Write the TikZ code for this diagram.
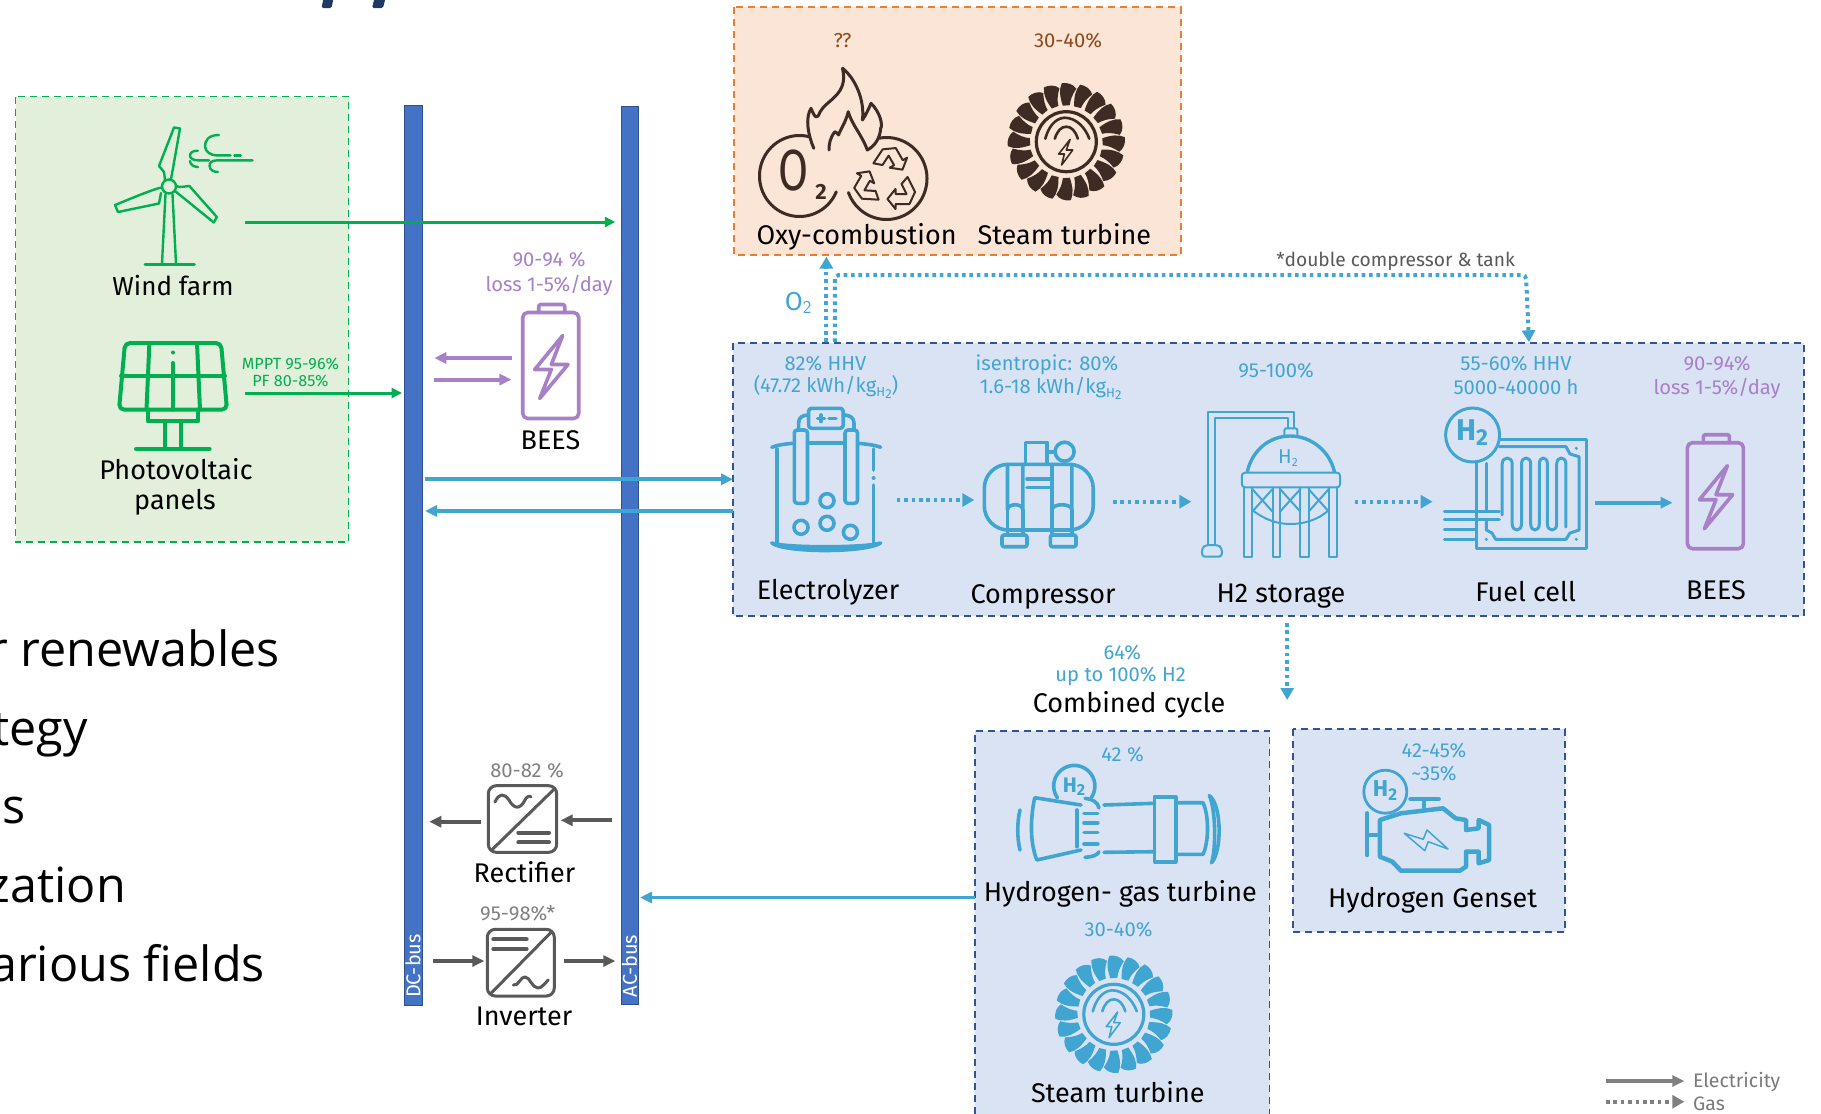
\documentclass[tikz,border=0pt]{standalone}
\usepackage{fontspec}
\setmainfont{Fira Sans}
\newfontfamily\slidefont{Open Sans}
\usetikzlibrary{arrows.meta}
\definecolor{hblue}{HTML}{41A5D2}
\definecolor{busblue}{HTML}{4472C4}
\definecolor{busedge}{HTML}{2F528F}
\definecolor{panelblue}{HTML}{DAE3F3}
\definecolor{paneledge}{HTML}{2F5597}
\definecolor{greenfill}{HTML}{E2EFDA}
\definecolor{hgreen}{HTML}{00B050}
\definecolor{orangefill}{HTML}{FBE5D6}
\definecolor{hbrown}{HTML}{3E2B23}
\definecolor{horange}{HTML}{ED7D31}
\definecolor{pctbrown}{HTML}{8F4A1C}
\definecolor{hpurple}{HTML}{A780C8}
\definecolor{convgray}{HTML}{595959}
\definecolor{pctgray}{HTML}{808080}
\definecolor{navy}{HTML}{1F3864}
\tikzset{
  x=1pt,y=-1pt,
  every node/.style={inner sep=0pt,outer sep=0pt,anchor=center,align=center},
  name text/.style={font=\fontsize{27}{29}\selectfont,text=black},
  small text/.style={font=\fontsize{20.2}{22}\selectfont},
  blue text/.style={small text,text=hblue},
  purple text/.style={small text,text=hpurple},
  elec/.style={-{Triangle[length=12pt,width=11pt]},line width=3.9pt},
  thin elec/.style={-{Triangle[length=10.5pt,width=10pt]},line width=3pt,hgreen},
  gas/.style={-{Triangle[length=12pt,width=13pt]},line width=4pt,hblue,dash pattern=on 3.6pt off 3.8pt},
  panel/.style={fill=panelblue,draw=paneledge,line width=1.8pt,dash pattern=on 7pt off 5pt},
  bus/.style={fill=busblue,draw=busedge,line width=1pt},
  icon/.style={line width=3.6pt,line join=round,line cap=round},
  thin icon/.style={line width=2pt,line join=round,line cap=round},
}
\newcommand{\batteryicon}[2]{%
  \begin{scope}[shift={(#1,#2)},hpurple,icon]
    \draw[rounded corners=5pt] (0,0) rectangle (56,106);
    \draw[rounded corners=2pt] (16,0) -- (16,-8) -- (42,-8) -- (42,0);
    \draw (40,23) -- (12,57) -- (28.6,57) -- (17,86) -- (45.3,52) -- (28.6,52) -- cycle;
  \end{scope}}
\newcommand{\turbineicon}[3]{%
  \begin{scope}[shift={(#1,#2)}]
    \foreach \a in {0,18,...,342}{
      \fill[#3,rotate=\a] (-3.5,-36) .. controls (-6.5,-45) and (-7.5,-52) .. (-4.5,-58.5)
         .. controls (1,-59.5) and (7,-57.5) .. (10,-53) .. controls (6,-47) and (4,-42) .. (3.5,-36.5) -- cycle;
    }
    \draw[#3,line width=3.2pt] (0,0) circle (30);
    \draw[#3,line width=2.6pt,line cap=round] (-21,-3) .. controls (-18,-14) and (-12,-23) .. (-2,-24) .. controls (10,-24) and (19,-14) .. (23,-3);
    \draw[#3,line width=2.6pt,line cap=round] (-11.5,-3) .. controls (-9,-11) and (-5,-15) .. (0,-15) .. controls (5,-15) and (9,-11) .. (11.5,-3);
    \draw[#3,line width=1.6pt,line join=round] (3.8,-2.3) -- (-7.6,12.3) -- (-2,12.3) -- (-4.7,23.3) -- (6.4,8.3) -- (0,8.3) -- cycle;
  \end{scope}}
\begin{document}
\begin{tikzpicture}
\useasboundingbox (0,0) rectangle (1821,1114);
\fill[white] (0,0) rectangle (1821,1114);

% title fragment
\fill[navy,rounded corners=1.5pt] (324,-4) -- (334,-4) -- (331.5,8) -- (321.5,8) -- cycle;
\fill[navy,rounded corners=1.5pt] (375,-4) -- (386,-4) -- (383,8) -- (372,8) -- cycle;

% slide text fragments
\begin{scope}[every node/.append style={anchor=base east,font=\slidefont\fontsize{48.5}{50}\selectfont,text=black}]
  \node (s1) at (280,666.7) {r renewables};
  \node (s2) at (88,745) {tegy};
  \node (s3) at (26,823) {s};
  \node (s4) at (126,902.3) {zation};
  \node (s5) at (265,981.7) {arious fields};
\end{scope}

% panels
\path[fill=greenfill,draw=hgreen,line width=1.8pt,dash pattern=on 7pt off 5pt] (15.5,96.5) rectangle (348.5,542);
\path[fill=orangefill,draw=horange,line width=1.8pt,dash pattern=on 7pt off 5pt] (734,7.3) rectangle (1181,255);
\path[panel] (733.2,342.7) rectangle (1803.7,616);
\fill[panelblue] (975,730.7) rectangle (1269.5,1114);
\draw[paneledge,line width=1.8pt,dash pattern=on 7pt off 5pt] (975,1114) -- (975,730.7) -- (1269.5,730.7) -- (1269.5,1114);
\path[panel] (1292.7,729) rectangle (1565,932.3);

% buses
\node[bus,minimum width=18pt,minimum height=900pt] (dcbus) at (413,555.8) {};
\node[bus,minimum width=17pt,minimum height=898pt] (acbus) at (629.5,555) {};
\node[rotate=90,text=white,font=\fontsize{20}{22}\selectfont] (dclabel) at (413,966) {DC-bus};
\node[rotate=90,text=white,font=\fontsize{20}{22}\selectfont] (aclabel) at (629.5,966) {AC-bus};

% wind turbine
\begin{scope}[hgreen,line width=2.4pt,line join=round,line cap=round]
  \draw (169,186.5) circle (7);
  \draw (174,127.5) -- (180,128.5) -- (172.5,171) -- (171,179);
  \draw (174,127.5) -- (159,166) -- (164,172) -- (165,180);
  \draw (162,187.5) .. controls (155,188) and (118,204) .. (115,205) -- (118,212) -- (159,203.5) -- (161,193);
  \draw (176,186) .. controls (180,188) and (186,186) .. (189.4,186) -- (216.8,217) -- (213.8,222.5) -- (175,191);
  \draw (165.5,194) -- (162,263.6);
  \draw (172.5,194) -- (176,263.6);
  \draw[line width=3pt] (145,264.3) -- (194.4,264.3);
  \draw (219,135) .. controls (208,135) and (205,141) .. (205,146) .. controls (205,152) and (211,155.4) .. (216.7,155.4) -- (230.6,155.4);
  \draw (234.4,155.4) -- (240.7,155.4);
  \draw (252.5,160.4) -- (216.8,160.4) .. controls (211,160.4) and (209.6,163) .. (209.6,166) .. controls (209.6,170) and (214,172) .. (218,172);
  \draw (197.8,150.7) .. controls (192,150.7) and (190,153) .. (190,156) .. controls (190,158.5) and (194,160.4) .. (198,160.4) -- (209,160.4);
  \draw (190,161) .. controls (190,164) and (193,167) .. (198,167);
\end{scope}
\node[name text,font=\fontsize{26}{28}\selectfont] (windtxt) at (173,285.5) {Wind farm};

% PV panel
\begin{scope}[hgreen,line width=4pt,line join=round,line cap=round]
  \draw[rounded corners=5pt] (125,343) -- (221,343) -- (227,409.6) -- (119,409.6) -- cycle;
  \draw (121,375.7) -- (225,375.7);
  \draw (149.4,343) -- (146.5,409.6);
  \draw (197,343) -- (200,409.6);
  \draw (173,363) -- (173,409.6);
  \draw (148,409.6) -- (148,421.4) -- (198,421.4) -- (198,409.6);
  \draw (165.4,421.4) -- (165.4,449);
  \draw (181,421.4) -- (181,449);
  \draw (136,449) -- (209.6,449);
  \fill (173,352.5) circle (2);
\end{scope}
\node[name text] (pvtxt1) at (176,469) {Photovoltaic};
\node[name text] (pvtxt2) at (175,502) {panels};
\node[text=hgreen,font=\fontsize{16.2}{18}\selectfont] (mppt) at (290.4,363.6) {MPPT 95-96\%};
\node[text=hgreen,font=\fontsize{16.2}{18}\selectfont] (pf) at (290.4,381) {PF 80-85\%};

% left battery
\batteryicon{522.7}{312.5}
\node[purple text] (bpct) at (549,260) {90-94 \%};
\node[purple text] (bloss) at (549,285) {loss 1-5\%/day};
\node[name text] (bees1) at (550.5,440) {BEES};
\coordinate (pa1) at (512,358); \coordinate (pa2) at (434.3,358);
\coordinate (pb1) at (433.5,379.6); \coordinate (pb2) at (511.4,379.6);
\draw[elec,hpurple] (pa1) -- (pa2);
\draw[elec,hpurple] (pb1) -- (pb2);

% green arrows
\coordinate (wind out) at (245.4,222); \coordinate (ac wind) at (615.3,222);
\coordinate (pv out) at (245.4,393); \coordinate (dc pv) at (402,393);
\draw[thin elec] (wind out) -- (ac wind);
\draw[thin elec] (pv out) -- (dc pv);

% blue bus arrows
\coordinate (dc o) at (425,479.3); \coordinate (h in) at (733,479.3);
\coordinate (h o) at (733,511); \coordinate (dc in) at (425,511);
\draw[elec,hblue] (dc o) -- (h in);
\draw[elec,hblue] (h o) -- (dc in);

% oxy combustion
\node[text=pctbrown,small text] (q) at (842.5,40.7) {??};
\node[text=pctbrown,small text] (st1pct) at (1068,40.7) {30-40\%};
\begin{scope}[hbrown,line width=3pt,line join=round,line cap=round]
  \draw plot[smooth,domain=75:337,samples=40] ({799.5+40*cos(\x)},{176-40.5*sin(\x)});
  \draw plot[smooth,domain=-160:100,samples=40] ({886.5+40.5*cos(\x)},{178.5-41*sin(\x)});
  \draw (813.8,148.3) .. controls (808,135) and (805,118) .. (811,108.3)
     .. controls (815,118) and (817,120) .. (820,112) .. controls (826,100) and (849,95) .. (842.5,68.3)
     .. controls (855,78) and (865,100) .. (862.4,120) .. controls (866,115) and (869,108) .. (871,103.3)
     .. controls (880,112) and (883,125) .. (880.7,128.3) .. controls (880,138) and (875,146) .. (867.3,150)
     .. controls (862,135) and (852,125) .. (848.2,111.7)
     .. controls (846,122) and (840,130) .. (838.6,135) .. controls (837,133) and (836,132) .. (834.8,131.7)
     .. controls (830,138) and (829,144) .. (829,150);
\end{scope}
\node[text=hbrown,font=\fontsize{58}{60}\selectfont] (o2big) at (793.5,171) {\scalebox{0.75}[1]{O}};
\node[text=hbrown,font=\bfseries\fontsize{22}{24}\selectfont] (o2sub) at (821,192) {2};
\begin{scope}[shift={(886.5,180)},hbrown,line width=2pt,line join=round]
  \foreach \a in {0,120,240}{
    \draw[rotate=\a] (1,19) -- (9,9) -- (9,14) -- (20,14) -- (15,4) -- (21,-3) -- (28.5,12) -- (23,24) -- (9,24) -- (9,29) -- cycle;
  }
\end{scope}
\turbineicon{1066.3}{141.7}{hbrown}
\node[name text] (oxytxt) at (856.6,237) {Oxy-combustion};
\node[name text] (st1txt) at (1064.4,234.5) {Steam turbine};

% O2 & double compressor
\node[text=hblue,font=\fontsize{26}{28}\selectfont] (o2lab) at (798.5,303) {O$_{\mathsf{2}}$};
\coordinate (o2 s) at (826.4,342); \coordinate (o2 e) at (826.4,256.7);
\draw[gas] (o2 s) -- (o2 e);
\coordinate (dc s) at (834.8,342); \coordinate (dc c1) at (834.8,275);
\coordinate (dc c2) at (1526,275); \coordinate (dc e) at (1529,342.3);
\draw[gas,rounded corners=4pt] (dc s) -- (dc c1) -- (dc c2) -- (dc e);
\node[text=convgray,font=\fontsize{19.2}{22}\selectfont] (dctxt) at (1395.6,261) {*double compressor \& tank};

% main labels
\node[blue text] (l1a) at (825.4,363.3) {82\% HHV};
\node[blue text] (l1b) at (826,387) {(47.72 kWh/kg\raisebox{-4pt}{\fontsize{13}{14}\selectfont H\raisebox{-2pt}{2}})};
\node[blue text] (l2a) at (1047,364.3) {isentropic: 80\%};
\node[blue text] (l2b) at (1050.7,388) {1.6-18 kWh/kg\raisebox{-4pt}{\fontsize{13}{14}\selectfont H\raisebox{-2pt}{2}}};
\node[blue text] (l3) at (1276,371) {95-100\%};
\node[blue text] (l4a) at (1516,364) {55-60\% HHV};
\node[blue text] (l4b) at (1516,387) {5000-40000 h};
\node[purple text] (l5a) at (1717,364) {90-94\%};
\node[purple text] (l5b) at (1717,388) {loss 1-5\%/day};
\node[name text] (eltxt) at (828,592.7) {Electrolyzer};
\node[name text] (comptxt) at (1043,596.5) {Compressor};
\node[name text] (h2txt) at (1281,596.5) {H2 storage};
\node[name text] (fctxt) at (1525.6,591.7) {Fuel cell};
\node[name text] (bees2) at (1716,590) {BEES};

% electrolyzer
\begin{scope}[hblue,icon]
  \draw (771.8,447.3) .. controls (777,445) and (785,444) .. (793,443.3);
  \draw (857.5,443.3) .. controls (866,444) and (875,445) .. (880.7,447.3);
  \draw (777,449) -- (777,543);
  \draw (873.6,449) -- (873.6,470);
  \draw (873.6,485) -- (873.6,543);
  \fill (873.6,478) circle (2);
  \draw (771.8,543) .. controls (785,553) and (865,553) .. (880.7,543) .. controls (865,548) and (785,548) .. (771.8,543);
  \draw[rounded corners=3pt] (794.3,430) rectangle (807.5,503.3);
  \draw[rounded corners=3pt] (845,430) rectangle (857.5,503.3);
  \draw (807.5,442.7) -- (845,442.7);
  \draw (798.6,430) -- (798.6,423) .. controls (798.6,417) and (803,415) .. (808.6,415);
  \draw (854,430) -- (854,423) .. controls (854,417) and (849,415) .. (843.2,415);
  \draw[rounded corners=3pt] (808.6,408.3) rectangle (843.2,428.3);
  \draw (817.5,418.3) -- (824.5,418.3);
  \draw (821,415) -- (821,421.6);
  \draw (829,418.3) -- (836,418.3);
  \draw (827,500.7) circle (7);
  \draw (801,527.3) circle (7);
  \draw (827,523.3) circle (7);
  \draw (850.4,532.3) circle (7);
\end{scope}

% compressor
\begin{scope}[hblue,icon]
  \draw[rounded corners=24pt] (984.3,464.3) rectangle (1093.2,530);
  \draw (1007.5,464.3) -- (1007.5,510) .. controls (1007.5,503) and (1022.9,503) .. (1022.9,510) -- (1022.9,464.3);
  \draw (1052,464.3) -- (1052,510) .. controls (1052,503) and (1071.8,503) .. (1071.8,510) -- (1071.8,464.3);
  \draw (1007.5,510) -- (1007.5,535); \draw (1022.9,510) -- (1022.9,535);
  \draw (1052,510) -- (1052,535); \draw (1071.8,510) -- (1071.8,535);
  \draw[rounded corners=2pt] (1002,535) rectangle (1027,546.7);
  \draw[rounded corners=2pt] (1050.4,535) rectangle (1076,546.7);
  \draw (1025.4,464.3) -- (1025.4,442.3) -- (1046.8,442.3) -- (1046.8,464.3);
  \draw (1064.6,451.7) circle (9.5);
  \draw (1046.8,451.7) -- (1055,451.7);
  \draw (1027,479) -- (1050,479);
  \draw (1027,487.3) -- (1050,487.3);
\end{scope}

% H2 storage
\begin{scope}[hblue,thin icon]
  \draw (1208.2,545) -- (1208.2,411.7) -- (1293.7,411.7) -- (1293.7,428.3);
  \draw (1215.4,545) -- (1215.4,418.3) -- (1288,418.3) -- (1288,428.3);
  \draw[rounded corners=3pt] (1202,556.7) -- (1202,548) -- (1206,545) -- (1218,545) -- (1221.8,548) -- (1221.8,556.7) -- cycle;
  \draw[rounded corners=2pt] (1284.4,436) -- (1284.4,428.3) -- (1297.4,428.3) -- (1297.4,436);
  \draw[line width=3.4pt] (1247.4,471.7) .. controls (1252,450) and (1270,436) .. (1290,436) .. controls (1312,436) and (1330,452) .. (1334.4,471.7);
  \draw[rounded corners=3pt] (1241.9,472.7) rectangle (1340,487.3);
  \foreach \xa/\xb in {1244.4/1252.2,1272.6/1280,1300.4/1308.5,1328.9/1337}{
    \draw (\xa,487.3) -- (\xa,556.7) -- (\xb,556.7) -- (\xb,487.3);
  }
  \foreach \xa/\xb in {1252.2/1272.6,1280/1300.4,1308.5/1328.9}{
    \draw (\xa,489) -- (\xb,511.7);
    \draw (\xb,489) -- (\xa,511.7);
  }
  \draw (1252.2,510) .. controls (1265,520) and (1278,524) .. (1290,524) .. controls (1304,524) and (1318,520) .. (1328.9,510);
\end{scope}
\node[text=hblue,font=\fontsize{20}{22}\selectfont] (h2s) at (1288,458) {H\raisebox{-3pt}{\fontsize{12}{13}\selectfont 2}};

% fuel cell
\begin{scope}[hblue,line width=3pt,line join=round,line cap=round]
  \draw (1472.6,435) circle (27);
  \draw (1499.3,439) -- (1586.3,439) -- (1586.3,548.3) -- (1476,548.3) -- (1476,463.3);
  \draw (1486.3,463.3) -- (1486.3,511);
  \draw (1499.3,446.7) -- (1566,446.7) -- (1570,454) -- (1579,456.7) -- (1579,530) -- (1570,533) -- (1566,539.3) -- (1495.6,539.3) -- (1492,533) -- (1486.3,530) -- (1486.3,519.3);
  \draw (1502.2,515) -- (1502.2,464) .. controls (1502.2,456) and (1512.2,456) .. (1512.2,464) -- (1512.2,524)
    .. controls (1512.2,532) and (1521.5,532) .. (1521.5,524) -- (1521.5,464)
    .. controls (1521.5,456) and (1530.7,456) .. (1530.7,464) -- (1530.7,524)
    .. controls (1530.7,532) and (1539.3,532) .. (1539.3,524) -- (1539.3,464)
    .. controls (1539.3,456) and (1547.4,456) .. (1547.4,464) -- (1547.4,524)
    .. controls (1547.4,532) and (1556.7,532) .. (1556.7,524) -- (1556.7,464)
    .. controls (1556.7,456) and (1565.9,456) .. (1565.9,464) -- (1565.9,527);
  \draw (1444.4,511) -- (1499.3,511);
  \draw (1444.4,519.3) -- (1499.3,519.3);
  \draw (1444.4,529) -- (1476,529);
  \draw (1444.4,539) -- (1476,539);
  \fill (1576.3,448.3) circle (1.7);
  \fill (1486.3,539.3) circle (1.7);
  \fill (1576.3,539.3) circle (1.7);
\end{scope}
\node[text=hblue,font=\bfseries\fontsize{30}{32}\selectfont] (fch2) at (1472,433) {H\raisebox{-5pt}{\fontsize{23}{25}\selectfont 2}};

\batteryicon{1687.4}{442.7}

% gas arrows
\coordinate (g1a) at (896.8,500); \coordinate (g1b) at (974.3,500);
\coordinate (g2a) at (1112.9,501.7); \coordinate (g2b) at (1191.4,501.7);
\coordinate (g3a) at (1354.8,501.7); \coordinate (g3b) at (1432.6,501.7);
\coordinate (e4a) at (1594.8,502.7); \coordinate (e4b) at (1672.6,502.7);
\coordinate (g5a) at (1287.2,623); \coordinate (g5b) at (1287.2,700);
\draw[gas] (g1a) -- (g1b);
\draw[gas] (g2a) -- (g2b);
\draw[gas] (g3a) -- (g3b);
\draw[elec,hblue] (e4a) -- (e4b);
\draw[gas] (g5a) -- (g5b);

% combined cycle
\node[blue text] (c1) at (1122.4,653) {64\%};
\node[blue text] (c2) at (1120.6,676.5) {up to 100\% H2};
\node[name text] (c3) at (1129,704.5) {Combined cycle};
\node[blue text] (tpct) at (1122.5,754.5) {42 \%};
\begin{scope}[hblue,icon]
  \draw plot[smooth,domain=-35:215,samples=30] ({1074.3+20.6*cos(\x)},{786-20.6*sin(\x)});
  \draw (1081,805) -- (1034.7,797.7) .. controls (1031,815) and (1029,840) .. (1036.8,860) -- (1081,850);
  \draw (1076.8,810) -- (1076.8,846.7);
  \draw (1020,810) .. controls (1017,822) and (1017,838) .. (1020,850);
  \draw (1085,798.3) .. controls (1092,799) and (1098,802) .. (1099,808);
  \draw (1085,857.3) .. controls (1092,857) and (1098,855) .. (1099,851.7);
  \foreach \yy in {813.3,822.7,832.3,844}{\draw (1084,\yy) -- (1097.8,\yy);}
  \draw (1104,805) -- (1154.6,803.3);
  \draw (1104,852.3) -- (1154.6,851.7);
  \draw (1154.6,796.7) rectangle (1175.7,861.7);
  \draw (1175.7,802.7) -- (1203,802.7) .. controls (1209,815) and (1209,842) .. (1203,854.3) -- (1175.7,854.3);
  \draw (1209.4,795.7) .. controls (1222,805) and (1222,852) .. (1211.5,862.7);
  \draw (1209.4,795.7) .. controls (1216,810) and (1216,850) .. (1211.5,862.7);
\end{scope}
\node[text=hblue,font=\bfseries\fontsize{21}{23}\selectfont] (th2) at (1074,787) {H\raisebox{-3pt}{\fontsize{16}{18}\selectfont 2}};
\node[name text] (gttxt) at (1120.3,894) {Hydrogen- gas turbine};
\node[blue text] (st2pct) at (1118.5,930) {30-40\%};
\turbineicon{1113.8}{1014.3}{hblue}
\node[name text] (st2txt) at (1117.8,1092.5) {Steam turbine};
\coordinate (gt o) at (975,897.5); \coordinate (ac gt) at (640,897.5);
\draw[elec,hblue] (gt o) -- (ac gt);

% genset
\node[blue text] (g1) at (1434,750.7) {42-45\%};
\node[blue text] (g2) at (1434,774) {\textasciitilde 35\%};
\begin{scope}[hblue,line width=4.5pt,line join=round,line cap=round]
  \draw[line width=2.8pt] (1385.3,791.7) circle (21.5);
  \draw (1400.9,813.3) -- (1443,808.3) -- (1455.6,818.3) -- (1466,820) -- (1466,830) -- (1478.7,828.3) -- (1478.7,820) -- (1489.2,825) -- (1489.2,860) -- (1478.7,863.3) -- (1478.7,851.7) -- (1466,851.7) -- (1466,866.7) -- (1459.8,870.7) -- (1400.9,870.7) -- (1392.4,861.7) -- (1379.8,856.7) -- (1379.8,820) -- cycle;
  \draw (1367.2,813.3) -- (1367.2,855);
  \draw (1367.2,835) -- (1379.8,835);
  \draw (1410.5,799) -- (1438.7,799);
  \draw (1424,799) -- (1424,808);
  \draw[line width=1.5pt] (1404.2,833.3) -- (1424.8,850.7) -- (1428.2,841.7) -- (1448,849) -- (1427,830) -- (1423.2,839.3) -- cycle;
\end{scope}
\node[text=hblue,font=\bfseries\fontsize{23}{25}\selectfont] (gh2) at (1385,791) {H\raisebox{-4pt}{\fontsize{17}{19}\selectfont 2}};
\node[name text] (gentxt) at (1432.5,899.8) {Hydrogen Genset};

% rectifier
\node[text=pctgray,small text] (rpct) at (527,770.5) {80-82 \%};
\begin{scope}[convgray,line width=3pt,line join=round,line cap=round]
  \draw[rounded corners=8pt] (488.3,785.7) rectangle (556.7,852.3);
  \draw (491.7,850) -- (555,788.3);
  \draw (495,802) .. controls (499,793) and (504,793) .. (509,800) .. controls (514,809) and (520,810) .. (525,800) .. controls (526,797) and (530,795) .. (531,797);
  \draw[line width=4pt] (518.3,832.7) -- (549,832.7);
  \draw[line width=4pt] (518.3,842.3) -- (549,842.3);
\end{scope}
\node[name text] (rtxt) at (524.5,872) {Rectifier};
\coordinate (ra1) at (480.7,821.7); \coordinate (ra2) at (429.3,821.7);
\coordinate (rb1) at (611.7,820.3); \coordinate (rb2) at (560.7,820.3);
\draw[elec,convgray] (ra1) -- (ra2);
\draw[elec,convgray] (rb1) -- (rb2);

% inverter
\node[text=pctgray,small text] (ipct) at (517.7,913.5) {95-98\%*};
\begin{scope}[convgray,line width=3pt,line join=round,line cap=round]
  \draw[rounded corners=8pt] (487.3,929.3) rectangle (554.3,996);
  \draw (491,993.3) -- (551.7,931.7);
  \draw[line width=4pt] (493.3,939.3) -- (526.7,939.3);
  \draw[line width=4pt] (493.3,949) -- (526.7,949);
  \draw (513.3,985) .. controls (518,987) and (521,976) .. (525,977) .. controls (530,977) and (532,988) .. (538,988) .. controls (542,988) and (545,983) .. (548.3,980);
\end{scope}
\node[name text] (itxt) at (524,1016.5) {Inverter};
\coordinate (ia1) at (432.7,961); \coordinate (ia2) at (484.3,961);
\coordinate (ib1) at (564,961); \coordinate (ib2) at (615.3,961);
\draw[elec,convgray] (ia1) -- (ia2);
\draw[elec,convgray] (ib1) -- (ib2);

% legend
\coordinate (lg1a) at (1606,1081); \coordinate (lg1b) at (1684.3,1081);
\coordinate (lg2a) at (1606,1101.7); \coordinate (lg2b) at (1684.3,1101.7);
\draw[elec,pctgray] (lg1a) -- (lg1b);
\draw[gas,pctgray] (lg2a) -- (lg2b);
\node[anchor=west,text=convgray!80,font=\fontsize{19.5}{21}\selectfont] (lgt1) at (1693,1081.7) {Electricity};
\node[anchor=west,text=convgray!80,font=\fontsize{19.5}{21}\selectfont] (lgt2) at (1693,1104) {Gas};
\end{tikzpicture}
\end{document}
